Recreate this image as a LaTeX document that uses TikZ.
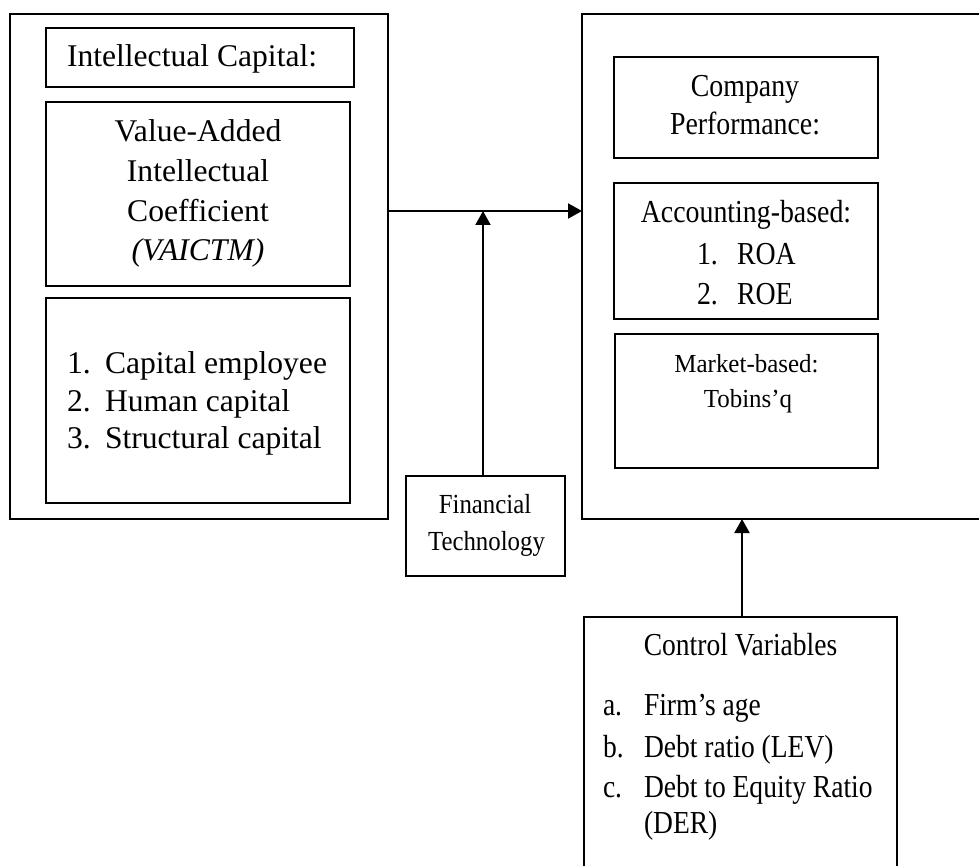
\documentclass[tikz,border=0pt]{standalone}
\usepackage{fontspec}
\usepackage{graphicx}
\setmainfont{Liberation Serif}
\usetikzlibrary{arrows.meta}
\newcommand\sqz[2]{\scalebox{#1}[1]{#2}}
\tikzset{
  boxthick/.style={draw, line width=1pt, inner sep=0pt, outer sep=0pt, anchor=north west},
  boxthin/.style={draw, line width=0.6pt, inner sep=0pt, outer sep=0pt, anchor=north west},
  txt/.style={inner sep=0pt, outer sep=0pt, font=\fontsize{15.8}{19}\selectfont},
  txtr/.style={inner sep=0pt, outer sep=0pt, font=\fontsize{16}{19}\selectfont},
  txtm/.style={inner sep=0pt, outer sep=0pt, font=\fontsize{13}{16}\selectfont},
  txtf/.style={inner sep=0pt, outer sep=0pt, font=\fontsize{13.8}{16}\selectfont},
  arr/.style={line width=1pt, -{Triangle[length=7pt,width=7.5pt]}}
}
\begin{document}
\begin{tikzpicture}[x=0.5pt,y=-0.5pt]
\useasboundingbox (0,0) rectangle (979,866);
\clip (0,0) rectangle (979,866);
% boxes
\node[boxthick, minimum width=189pt, minimum height=252.5pt] (L) at (10,14) {};
\node[boxthin, minimum width=154pt, minimum height=29.5pt] (IC) at (46,28) {};
\node[boxthick, minimum width=152pt, minimum height=92pt] (VA) at (46,102) {};
\node[boxthick, minimum width=152pt, minimum height=102.5pt] (LI) at (46,298) {};
\node[boxthick, minimum width=209pt, minimum height=252.5pt] (R) at (582,14) {};
\node[boxthin, minimum width=132pt, minimum height=50.5pt] (CP) at (614,57) {};
\node[boxthick, minimum width=132pt, minimum height=68pt] (AC) at (614,183) {};
\node[boxthick, minimum width=131.5pt, minimum height=67pt] (MK) at (615,334) {};
\node[boxthick, minimum width=79.5pt, minimum height=50pt] (FT) at (406,476) {};
\node[boxthick, minimum width=156.5pt, minimum height=141.5pt] (CV) at (584,617) {};
% left texts
\node[txt, anchor=base west] (t1) at (67,67) {Intellectual Capital:};
\node[txt, anchor=base] (t2) at (198,142) {Value-Added};
\node[txt, anchor=base] (t3) at (198,182) {Intellectual};
\node[txt, anchor=base] (t4) at (198,222) {Coefficient};
\node[txt, anchor=base] (t5) at (198,260) {\itshape (VAICTM)};
\node[txt, anchor=base west] (n1) at (67,373) {1.};
\node[txt, anchor=base west] (l1) at (105,373) {Capital employee};
\node[txt, anchor=base west] (n2) at (67,411) {2.};
\node[txt, anchor=base west] (l2) at (105,411) {Human capital};
\node[txt, anchor=base west] (n3) at (67,448) {3.};
\node[txt, anchor=base west] (l3) at (105,448) {Structural capital};
% right texts
\node[txtr, anchor=base] (r1) at (745,97) {\sqz{0.87}{Company}};
\node[txtr, anchor=base] (r2) at (745,135) {\sqz{0.87}{Performance:}};
\node[txtr, anchor=base] (r3) at (746,223) {\sqz{0.87}{Accounting-based:}};
\node[txtr, anchor=base west] (r4n) at (697,264) {\sqz{0.87}{1.}};
\node[txtr, anchor=base west] (r4) at (737,264) {\sqz{0.87}{ROA}};
\node[txtr, anchor=base west] (r5n) at (697,304) {\sqz{0.87}{2.}};
\node[txtr, anchor=base west] (r5) at (737,304) {\sqz{0.87}{ROE}};
\node[txtm, anchor=base] (m1) at (746.5,372) {\sqz{0.96}{Market-based:}};
\node[txtm, anchor=base] (m2) at (748,407) {\sqz{0.96}{Tobins’q}};
% financial technology
\node[txtf, anchor=base] (f1) at (485,513) {\sqz{0.9}{Financial}};
\node[txtf, anchor=base] (f2) at (486.5,550) {\sqz{0.9}{Technology}};
% control variables
\node[txtr, anchor=base] (c0) at (740.5,655) {\sqz{0.86}{Control Variables}};
\node[txtr, anchor=base west] (ca) at (603,715) {\sqz{0.86}{a.}};
\node[txtr, anchor=base west] (c1) at (644,715) {\sqz{0.86}{Firm’s age}};
\node[txtr, anchor=base west] (cb) at (603,757) {\sqz{0.86}{b.}};
\node[txtr, anchor=base west] (c2) at (644,757) {\sqz{0.86}{Debt ratio (LEV)}};
\node[txtr, anchor=base west] (cc) at (603,797) {\sqz{0.86}{c.}};
\node[txtr, anchor=base west] (c3) at (644,797) {\sqz{0.86}{Debt to Equity Ratio}};
\node[txtr, anchor=base west] (c4) at (644,833) {\sqz{0.86}{(DER)}};
% connectors
\coordinate (j) at (483,211);
\draw[arr] (L.east |- j) -- (R.west |- j);
\draw[arr] (FT.north -| j) -- (j);
\draw[arr] (CV.north -| 742,0) -- (R.south -| 742,0);
\end{tikzpicture}
\end{document}
